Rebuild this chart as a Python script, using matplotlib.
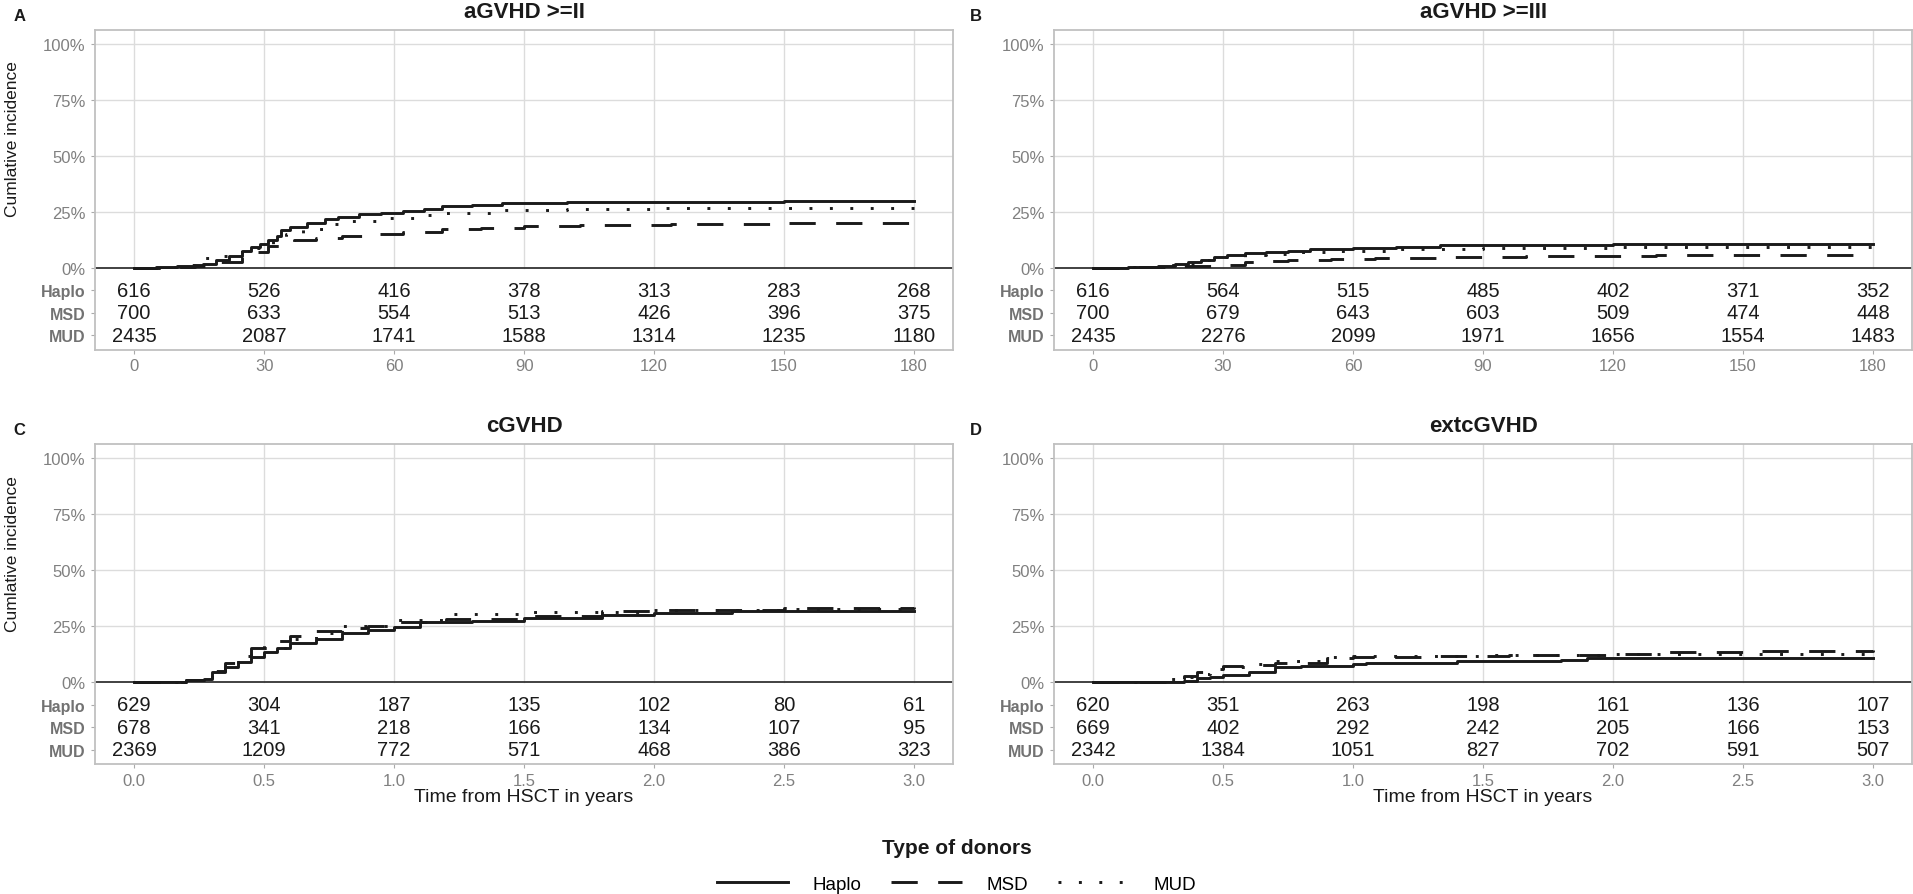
import numpy as np
import matplotlib.pyplot as plt
from matplotlib.lines import Line2D

plt.rcParams['font.family'] = ['Liberation Sans', 'DejaVu Sans']

groups = ['Haplo', 'MSD', 'MUD']

# Panel A: aGVHD >= II (days)
a2_t_haplo = [0, 5, 10, 14, 16, 19, 22, 25, 27, 29, 31, 33, 34, 36, 40, 44, 47, 52, 57, 62, 67, 71, 78, 85, 100, 125, 150, 180]
a2_y_haplo = [0, 0.4, 1.0, 1.3, 2.0, 3.5, 5.2, 7.5, 9.4, 10.8, 12.4, 14.5, 17.0, 18.5, 20.0, 21.8, 23.0, 24.0, 24.7, 25.4, 26.2, 27.5, 28.0, 28.9, 29.3, 29.6, 29.9, 30.0]
a2_t_msd = [0, 8, 14, 20, 25, 28, 31, 34, 37, 42, 48, 55, 62, 71, 80, 90, 103, 124, 150, 180]
a2_y_msd = [0, 0.3, 1.0, 2.5, 5.0, 7.0, 9.8, 11.5, 12.4, 13.3, 14.2, 15.2, 16.3, 17.4, 18.0, 18.6, 19.1, 19.6, 20.1, 20.1]
a2_t_mud = [0, 6, 12, 15, 18, 22, 26, 29, 32, 35, 39, 44, 50, 57, 65, 72, 85, 100, 120, 150, 180]
a2_y_mud = [0, 0.5, 1.5, 4.5, 5.5, 7.0, 9.0, 10.8, 13.0, 15.2, 17.5, 19.6, 21.0, 22.2, 23.6, 24.8, 25.8, 26.4, 26.8, 27.0, 27.0]
a2_risk_haplo = [616, 526, 416, 378, 313, 283, 268]
a2_risk_msd = [700, 633, 554, 513, 426, 396, 375]
a2_risk_mud = [2435, 2087, 1741, 1588, 1314, 1235, 1180]

# Panel B: aGVHD >= III (days)
a3_t_haplo = [0, 8, 15, 19, 22, 25, 28, 31, 35, 40, 45, 50, 60, 70, 80, 95, 120, 180]
a3_y_haplo = [0, 0.3, 1.0, 1.8, 2.7, 3.8, 4.9, 5.8, 6.8, 7.2, 7.6, 8.4, 8.8, 9.4, 10.1, 10.5, 10.7, 10.7]
a3_t_msd = [0, 10, 20, 30, 35, 40, 45, 55, 65, 80, 100, 130, 180]
a3_y_msd = [0, 0.5, 1.0, 1.5, 2.5, 3.1, 3.6, 4.0, 4.3, 4.9, 5.4, 5.7, 5.8]
a3_t_mud = [0, 8, 15, 20, 25, 30, 35, 40, 48, 55, 70, 90, 120, 180]
a3_y_mud = [0, 0.3, 1.2, 2.0, 3.5, 4.9, 5.8, 6.4, 7.0, 7.6, 8.3, 8.9, 9.2, 9.4]
a3_risk_haplo = [616, 564, 515, 485, 402, 371, 352]
a3_risk_msd = [700, 679, 643, 603, 509, 474, 448]
a3_risk_mud = [2435, 2276, 2099, 1971, 1656, 1554, 1483]

# Panel C: cGVHD (years)
c_t_haplo = [0, 0.1, 0.2, 0.27, 0.3, 0.35, 0.4, 0.45, 0.5, 0.55, 0.6, 0.7, 0.8, 0.9, 1.0, 1.1, 1.3, 1.5, 1.8, 2.0, 2.3, 3.0]
c_y_haplo = [0, 0.3, 1.0, 1.5, 4.5, 6.8, 9.0, 11.2, 13.4, 15.5, 17.5, 19.3, 22.3, 23.5, 24.8, 26.8, 27.5, 29.0, 30.0, 30.8, 31.7, 31.7]
c_t_msd = [0, 0.1, 0.2, 0.27, 0.3, 0.35, 0.4, 0.45, 0.5, 0.6, 0.7, 0.8, 0.9, 1.0, 1.2, 1.5, 1.8, 2.0, 2.5, 3.0]
c_y_msd = [0, 0.3, 1.0, 1.8, 5.2, 8.5, 11.9, 15.5, 18.6, 20.8, 23.0, 24.3, 25.3, 26.8, 28.3, 29.8, 31.7, 32.4, 33.2, 33.8]
c_t_mud = [0, 0.1, 0.2, 0.27, 0.3, 0.35, 0.4, 0.45, 0.5, 0.6, 0.7, 0.8, 1.0, 1.2, 1.5, 2.0, 2.5, 3.0]
c_y_mud = [0, 0.3, 1.0, 1.6, 4.8, 7.5, 10.4, 13.0, 15.6, 19.6, 22.3, 25.3, 28.0, 30.5, 31.5, 32.4, 32.7, 33.0]
c_risk_haplo = [629, 304, 187, 135, 102, 80, 61]
c_risk_msd = [678, 341, 218, 166, 134, 107, 95]
c_risk_mud = [2369, 1209, 772, 571, 468, 386, 323]

# Panel D: extensive cGVHD (years)
d_t_haplo = [0, 0.3, 0.35, 0.4, 0.45, 0.5, 0.6, 0.7, 0.8, 1.0, 1.05, 1.4, 1.8, 1.9, 3.0]
d_y_haplo = [0, 0.3, 0.7, 1.8, 2.5, 3.3, 4.8, 7.0, 7.4, 8.2, 8.9, 9.7, 10.1, 10.7, 10.7]
d_t_msd = [0, 0.2, 0.3, 0.35, 0.4, 0.45, 0.5, 0.6, 0.7, 0.9, 1.0, 1.3, 1.6, 2.0, 2.2, 2.5, 3.0]
d_y_msd = [0, 0.3, 1.5, 3.0, 4.5, 6.0, 7.4, 8.0, 8.9, 10.7, 11.2, 11.9, 12.2, 12.9, 13.7, 14.1, 14.6]
d_t_mud = [0, 0.2, 0.3, 0.35, 0.4, 0.45, 0.5, 0.6, 0.7, 0.9, 1.0, 1.3, 1.5, 2.0, 3.0]
d_y_mud = [0, 0.3, 1.5, 2.5, 3.7, 5.2, 6.7, 8.2, 9.7, 11.2, 11.6, 11.9, 12.2, 12.5, 12.6]
d_risk_haplo = [620, 351, 263, 198, 161, 136, 107]
d_risk_msd = [669, 402, 292, 242, 205, 166, 153]
d_risk_mud = [2342, 1384, 1051, 827, 702, 591, 507]

day_ticks = [0, 30, 60, 90, 120, 150, 180]
day_labels = ['0', '30', '60', '90', '120', '150', '180']
year_ticks = [0, 0.5, 1.0, 1.5, 2.0, 2.5, 3.0]
year_labels = ['0.0', '0.5', '1.0', '1.5', '2.0', '2.5', '3.0']

line_styles = {'Haplo': '-', 'MSD': (0, (9, 7)), 'MUD': (0, (1, 6))}
grid_col = '#DCDCDC'
box_col = '#C0C0C0'
text_grey = '#808080'
ink = '#1A1A1A'


def draw_panel(ax, title, curves, risk, xticks, xlabels, xlabel=None, ylabel=False):
    span = xticks[-1] - xticks[0]
    ax.set_xlim(xticks[0] - 0.05 * span, xticks[-1] + 0.05 * span)
    ax.set_ylim(-0.365, 1.065)

    # grid only over the curve area
    for x in xticks:
        ax.plot([x, x], [0, 1.065], color=grid_col, lw=1, zorder=0)
    for y in [0.25, 0.5, 0.75, 1.0]:
        ax.axhline(y, color=grid_col, lw=1, zorder=0)
    ax.axhline(0, color='#333333', lw=1.3, zorder=1)

    for name, (t, v) in zip(groups, curves):
        ax.step(t, np.array(v) / 100, where='post', color=ink,
                lw=2.1, linestyle=line_styles[name], label=name, zorder=3)

    # numbers at risk inside the panel
    for row, counts in enumerate(risk):
        for x, n in zip(xticks, counts):
            ax.text(x, -0.1 * (row + 1), str(n), ha='center', va='center',
                    fontsize=14.5, color=ink)

    yt = [-0.3, -0.2, -0.1, 0, 0.25, 0.5, 0.75, 1.0]
    ax.set_yticks(yt)
    ax.set_yticklabels(['MUD', 'MSD', 'Haplo', '0%', '25%', '50%', '75%', '100%'])
    ax.tick_params(axis='y', labelsize=12, labelcolor=text_grey, color='#AAAAAA', length=3, pad=4)
    for lab in ax.get_yticklabels()[:3]:
        lab.set_fontweight('bold')
        lab.set_fontsize(11.5)
        lab.set_color('#727272')

    ax.set_xticks(xticks)
    ax.set_xticklabels(xlabels)
    ax.tick_params(axis='x', labelsize=12, labelcolor=text_grey, color='#AAAAAA', length=3, pad=3)

    for sp in ax.spines.values():
        sp.set_color(box_col)
        sp.set_linewidth(1.3)

    ax.text(0.5, 1.057, title, transform=ax.transAxes, ha='center', va='center',
            fontsize=16, fontweight='bold', color=ink)
    if xlabel:
        ax.set_xlabel(xlabel, fontsize=14, color=ink, labelpad=0)
    if ylabel:
        ax.set_ylabel('Cumlative incidence', fontsize=12.5, color=ink)
        ax.yaxis.set_label_coords(-0.088, 0.66)


fig = plt.figure(figsize=(19.13, 8.95), dpi=100)
w = 0.4485
h = 0.3579
ax_a = fig.add_axes([0.0497, 0.608, w, h])
ax_b = fig.add_axes([0.551, 0.608, w, h])
ax_c = fig.add_axes([0.0497, 0.145, w, h])
ax_d = fig.add_axes([0.551, 0.145, w, h])

draw_panel(ax_a, 'aGVHD >=II',
           [(a2_t_haplo, a2_y_haplo), (a2_t_msd, a2_y_msd), (a2_t_mud, a2_y_mud)],
           [a2_risk_haplo, a2_risk_msd, a2_risk_mud], day_ticks, day_labels, ylabel=True)
draw_panel(ax_b, 'aGVHD >=III',
           [(a3_t_haplo, a3_y_haplo), (a3_t_msd, a3_y_msd), (a3_t_mud, a3_y_mud)],
           [a3_risk_haplo, a3_risk_msd, a3_risk_mud], day_ticks, day_labels)
draw_panel(ax_c, 'cGVHD',
           [(c_t_haplo, c_y_haplo), (c_t_msd, c_y_msd), (c_t_mud, c_y_mud)],
           [c_risk_haplo, c_risk_msd, c_risk_mud], year_ticks, year_labels,
           xlabel='Time from HSCT in years', ylabel=True)
draw_panel(ax_d, 'extcGVHD',
           [(d_t_haplo, d_y_haplo), (d_t_msd, d_y_msd), (d_t_mud, d_y_mud)],
           [d_risk_haplo, d_risk_msd, d_risk_mud], year_ticks, year_labels,
           xlabel='Time from HSCT in years')

# panel letters
for letter, x, y in [('A', 0.010, 0.982), ('B', 0.510, 0.982), ('C', 0.010, 0.519), ('D', 0.510, 0.519)]:
    fig.text(x, y, letter, fontsize=12, fontweight='bold', color=ink, ha='center', va='center')

# legend at the bottom
fig.text(0.5, 0.0525, 'Type of donors', ha='center', va='center', fontsize=15,
         fontweight='bold', color=ink)
handles = [Line2D([], [], color=ink, lw=2.1, linestyle=line_styles[g]) for g in groups]
fig.legend(handles, groups, loc='center', bbox_to_anchor=(0.5, 0.011), ncol=3, frameon=False,
           fontsize=13.5, handlelength=3.8, handletextpad=1.3, columnspacing=1.6,
           borderpad=0, borderaxespad=0)

fig.savefig('out.png', dpi=100)
